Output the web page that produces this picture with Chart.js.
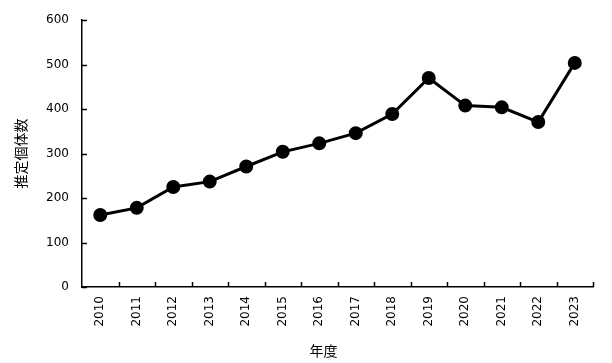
<!DOCTYPE html>
<html>
<head>
<meta charset="utf-8">
<script src="https://cdn.jsdelivr.net/npm/chart.js@4.4.1/dist/chart.umd.min.js"></script>
<style>
  html, body { margin: 0; padding: 0; background: #fff; }
  #wrap { width: 612px; height: 363px; }
</style>
</head>
<body>
<div id="wrap"><canvas id="chart" width="612" height="363"></canvas></div>
<script>
// data
const years = ['2010', '2011', '2012', '2013', '2014', '2015', '2016',
               '2017', '2018', '2019', '2020', '2021', '2022', '2023'];
const estimates = [162, 178, 225, 237, 271, 304, 323, 346, 389, 470, 408, 404, 371, 504];
const yTicks = [0, 100, 200, 300, 400, 500, 600];

const labelFont = { family: 'DejaVu Sans', size: 12 };
const titleFont = { family: 'Noto Sans CJK JP', size: 14 };

// small tick marks drawn inward, like the original
const innerTicks = {
  id: 'innerTicks',
  afterDraw(chart) {
    const { ctx, chartArea, scales } = chart;
    const len = 5;
    ctx.save();
    ctx.strokeStyle = '#000';
    ctx.lineWidth = 1.5;
    ctx.beginPath();
    // y ticks
    yTicks.forEach(v => {
      const y = Math.round(scales.y.getPixelForValue(v)) + 0.5;
      ctx.moveTo(chartArea.left, y);
      ctx.lineTo(chartArea.left + len, y);
    });
    // x ticks between categories
    for (let i = 1; i <= years.length; i++) {
      let x;
      if (i === years.length) x = chartArea.right;
      else x = (scales.x.getPixelForValue(i - 1) + scales.x.getPixelForValue(i)) / 2;
      x = Math.round(x) + 0.5;
      ctx.moveTo(x, chartArea.bottom);
      ctx.lineTo(x, chartArea.bottom - len);
    }
    ctx.stroke();
    ctx.restore();
  }
};

new Chart(document.getElementById('chart').getContext('2d'), {
  type: 'line',
  data: {
    labels: years,
    datasets: [{
      label: '推定個体数',
      data: estimates,
      borderColor: '#000',
      backgroundColor: '#000',
      borderWidth: 3,
      pointRadius: 5.5,
      pointBackgroundColor: '#000',
      pointBorderColor: '#000',
      tension: 0
    }]
  },
  options: {
    responsive: false,
    animation: false,
    devicePixelRatio: 1,
    layout: { padding: { top: 20, right: 19, left: 0, bottom: 0 } },
    plugins: {
      legend: { display: false },
      tooltip: { enabled: false }
    },
    scales: {
      x: {
        offset: true,
        grid: { display: false, drawTicks: false, offset: true },
        border: { display: true, color: '#000', width: 1.5 },
        ticks: {
          color: '#000',
          font: labelFont,
          minRotation: 90,
          maxRotation: 90,
          padding: 9,
          autoSkip: false
        },
        title: {
          display: true,
          text: '年度　　',
          color: '#000',
          font: titleFont,
          padding: { top: 0, bottom: 4 }
        },
        afterFit(scale) { scale.height = 76; }
      },
      y: {
        min: 0,
        max: 600,
        afterBuildTicks(scale) { scale.ticks = yTicks.map(v => ({ value: v })); },
        grid: { display: false, drawTicks: false },
        border: { display: true, color: '#000', width: 1.5 },
        ticks: {
          color: '#000',
          font: labelFont,
          padding: 13
        },
        title: {
          display: true,
          text: '推定個体数',
          color: '#000',
          font: titleFont,
          padding: { top: 12, bottom: 0 }
        },
        afterFit(scale) { scale.width = 82; }
      }
    }
  },
  plugins: [innerTicks]
});
</script>
</body>
</html>
